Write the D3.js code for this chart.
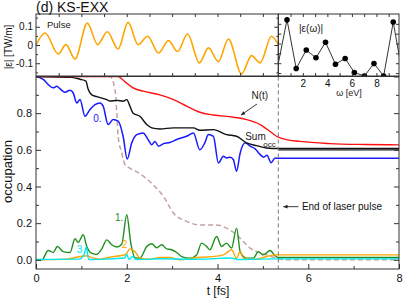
<!DOCTYPE html>
<html>
<head>
<meta charset="utf-8">
<script src="https://cdn.jsdelivr.net/npm/d3@7"></script>
<style>
body { margin: 0; background: #fff; }
svg { display: block; font-family: "Liberation Sans", Arial, Helvetica, sans-serif; }
</style>
</head>
<body>
<svg id="chart" width="403" height="299"></svg>
<script>
// values, [t (fs), value]
var tEnd = 5.34;

var pulse = [[0,0],[0.20,0.066],[0.49,-0.049],[0.66,0.002],[0.86,-0.077],[1.13,0.120],[1.36,0.002],
  [1.57,0.073],[1.81,-0.022],[2.03,0.124],[2.25,0.002],[2.46,0.048],[2.70,-0.044],[2.92,0.024],
  [3.12,-0.036],[3.34,0.060],[3.60,-0.098],[3.80,-0.016],[4.02,-0.091],[4.24,0.033],[4.53,-0.158],
  [4.75,-0.058],[4.94,-0.098],[5.19,0.048],[5.34,0.002]];

var nTotal = [[0,1.0],[1.81,1.0],[1.9,0.985],[2.0,0.963],[2.14,0.938],[2.36,0.92],[2.73,0.90],
  [3.03,0.874],[3.32,0.838],[3.61,0.805],[3.91,0.79],[4.35,0.778],[4.64,0.765],[4.94,0.738],
  [5.16,0.70],[5.30,0.674],[5.45,0.66],[5.82,0.646],[6.48,0.634],[7.25,0.629],[8,0.627]];

var sumOcc = [[0,1.0],[0.79,0.995],[0.97,0.985],[1.1,0.975],[1.15,0.93],[1.23,0.90],[1.34,0.89],
  [1.56,0.874],[1.63,0.866],[1.78,0.87],[1.92,0.865],[2.0,0.874],[2.07,0.838],[2.14,0.80],
  [2.29,0.783],[2.44,0.738],[2.55,0.72],[2.73,0.714],[3.03,0.72],[3.47,0.72],[3.61,0.707],
  [3.91,0.71],[4.20,0.683],[4.42,0.674],[4.64,0.638],[4.86,0.623],[5.08,0.61],[5.34,0.607],[8,0.607]];

var sumTail = [[5.34,0.600],[8,0.600]];

var occ0 = [[0,1.0],[0.16,0.984],[0.27,0.956],[0.38,0.938],[0.46,0.947],[0.53,0.933],[0.64,0.914],
  [0.75,0.925],[0.82,0.91],[0.90,0.856],[0.97,0.874],[1.08,0.783],[1.19,0.82],[1.30,0.847],
  [1.41,0.856],[1.48,0.838],[1.59,0.738],[1.70,0.765],[1.81,0.756],[1.92,0.674],[2.01,0.55],
  [2.11,0.638],[2.22,0.683],[2.36,0.692],[2.47,0.656],[2.55,0.628],[2.62,0.646],[2.70,0.62],
  [2.81,0.634],[2.95,0.64],[3.10,0.656],[3.32,0.674],[3.47,0.692],[3.61,0.60],[3.72,0.638],
  [3.80,0.683],[3.91,0.674],[4.02,0.528],[4.13,0.565],[4.20,0.556],[4.28,0.56],[4.35,0.546],
  [4.42,0.483],[4.50,0.583],[4.61,0.638],[4.72,0.62],[4.83,0.605],[4.94,0.574],[5.02,0.56],
  [5.09,0.57],[5.18,0.53],[5.27,0.555],[5.34,0.554],[8,0.554]];

var occ1 = [[0,0],[0.13,0],[0.27,0.051],[0.38,0.04],[0.47,0.073],[0.60,0.045],[0.75,0.04],
  [0.86,0.115],[0.93,0.095],[1.04,0.137],[1.12,0.073],[1.23,0.035],[1.34,0.03],[1.45,0.06],
  [1.56,0.109],[1.67,0.082],[1.78,0.07],[1.89,0.085],[2.0,0.246],[2.09,0.09],[2.18,0.012],
  [2.29,0.009],[2.44,0.073],[2.55,0.088],[2.66,0.066],[2.77,0.082],[2.88,0.06],[2.99,0.055],
  [3.10,0.04],[3.21,0.018],[3.39,0.009],[3.54,0.027],[3.65,0.091],[3.76,0.073],[3.83,0.055],
  [3.98,0.127],[4.09,0.073],[4.20,0.091],[4.31,0.064],[4.42,0.173],[4.50,0.045],[4.64,0.009],
  [4.79,0.009],[4.90,0.045],[5.01,0.027],[5.16,0.051],[5.27,0.022],[5.34,0.013],[8,0.013]];

var occ2 = [[0,0],[0.67,0.004],[0.97,0.018],[1.12,0.022],[1.23,0.012],[1.41,0.004],[1.63,0.015],
  [1.85,0.022],[1.98,0.03],[2.07,0.06],[2.18,0.045],[2.29,0.009],[2.5,0.003],[2.73,0.013],
  [2.95,0.013],[3.17,0.0],[3.54,0.013],[3.76,0.015],[4.13,0.027],[4.31,0.055],[4.42,0.009],
  [4.50,0.045],[4.57,0.009],[4.86,0.003],[5.08,0.018],[5.30,0.027],[8,0.027]];

var occ3 = [[0,0.002],[0.95,0.004],[1.06,0.03],[1.11,0.07],[1.16,0.002],[1.5,0.004],[1.95,0.01],
  [2.0,0.03],[2.05,0.002],[2.13,0.018],[2.2,0.002],[2.8,0.006],[3.4,0.003],[3.9,0.006],
  [4.3,0.01],[4.45,0.002],[4.9,0.004],[5.34,0.005],[8,0.005]];

var dashed = [[0,1.0],[1.63,1.0],[1.74,0.93],[1.78,0.80],[1.81,0.674],[1.89,0.583],[1.96,0.52],
  [2.07,0.50],[2.29,0.47],[2.45,0.44],[2.58,0.41],[2.81,0.346],[3.03,0.255],[3.32,0.21],
  [3.61,0.19],[3.98,0.19],[4.20,0.173],[4.42,0.137],[4.57,0.10],[4.72,0.064],[4.86,0.045],
  [5.08,0.027],[5.30,0.009],[5.5,0.0],[8,0.0]];

// spectrum |e(w)|, [omega (eV), arb. units]
var spectrum = [[0,0.255],[0.71,1.144],[1.46,0.152],[2.28,0.528],[3.07,0.37],[3.85,0.686],
  [4.66,0.24],[5.45,0.357],[6.2,0.07],[7.02,0],[7.8,0.255],[8.59,0],[9.37,1.096],[10.15,0]];

var xTicks = [0, 2, 4, 6, 8];
var xMinor = [1, 3, 5, 7];
var yTicks = [0, 0.2, 0.4, 0.6, 0.8, 1.0];
var yMinor = [0.1, 0.3, 0.5, 0.7, 0.9];
var pTicks = [-0.1, 0, 0.1];
var pMinor = [-0.15, -0.05, 0.05, 0.15];
var pxTicks = d3.range(0.5, 5.3, 0.5);
var wTicks = [1, 2, 3, 4, 5, 6, 7, 8, 9];
var wLabels = [2, 4, 6, 8];
var wyTicks = [0.06, 0.26, 0.46, 0.66, 0.86, 1.06];

var svg = d3.select('#chart');
var font = '"Liberation Sans", Arial, Helvetica, sans-serif';

var x = d3.scaleLinear().domain([0, 8]).range([36, 399]);
var y = d3.scaleLinear().domain([-0.05, 1.0]).range([269, 76.5]);
var yp = d3.scaleLinear().domain([-0.17, 0.17]).range([76, 14]);
var xw = d3.scaleLinear().domain([0, 9.84]).range([x(tEnd), 399]);
var yw = d3.scaleLinear().domain([0, 1.26]).range([76, 14]);

function axisG(axis, tx, ty, size) {
  var g = svg.append('g').attr('transform', 'translate(' + tx + ',' + ty + ')').call(axis);
  g.select('.domain').remove();
  g.attr('font-family', font).attr('font-size', size || 10);
  g.selectAll('line').attr('stroke', '#333');
  g.selectAll('text').attr('fill', '#111');
  return g;
}

// ---------- main panel ----------
svg.append('clipPath').attr('id', 'clipMain').append('rect')
  .attr('x', x(0)).attr('y', y(1.0)).attr('width', x(8) - x(0)).attr('height', y(-0.05) - y(1.0));

var line = d3.line().x(function(d) { return x(d[0]); }).y(function(d) { return y(d[1]); })
  .curve(d3.curveMonotoneX);

var lines = svg.append('g').attr('clip-path', 'url(#clipMain)').attr('fill', 'none');

lines.append('path').datum(dashed).attr('d', line)
  .attr('stroke', '#c4a2a2').attr('stroke-width', 1.5).attr('stroke-dasharray', '5,3');
lines.append('path').datum(occ1).attr('d', line).attr('stroke', '#1f8f1f').attr('stroke-width', 1.4);
lines.append('path').datum(occ2).attr('d', line).attr('stroke', '#ffa500').attr('stroke-width', 1.4);
lines.append('path').datum(occ3).attr('d', line).attr('stroke', '#00e8f0').attr('stroke-width', 1.4);
lines.append('path').datum(occ0).attr('d', line).attr('stroke', '#1a1aff').attr('stroke-width', 1.5);
lines.append('path').datum(sumTail).attr('d', line).attr('stroke', '#666').attr('stroke-width', 1.6);
lines.append('path').datum(sumOcc).attr('d', line).attr('stroke', '#111').attr('stroke-width', 1.4);
lines.append('path').datum(nTotal).attr('d', line).attr('stroke', '#ff1010').attr('stroke-width', 1.4);

// end of pulse
svg.append('line')
  .attr('x1', x(tEnd)).attr('x2', x(tEnd)).attr('y1', y(1.0)).attr('y2', y(-0.05))
  .attr('stroke', '#777').attr('stroke-width', 1).attr('stroke-dasharray', '4,3');

axisG(d3.axisBottom(x).tickValues(xTicks).tickSizeInner(-5).tickSizeOuter(0).tickPadding(5)
  .tickFormat(d3.format('d')), 0, y(-0.05), 11);
axisG(d3.axisBottom(x).tickValues(xMinor).tickSizeInner(-3).tickSizeOuter(0).tickFormat(''), 0, y(-0.05));
axisG(d3.axisLeft(y).tickValues(yTicks).tickSizeInner(-5).tickSizeOuter(0).tickPadding(4)
  .tickFormat(function(d) { return d < 0.95 ? d.toFixed(1) : ''; }), x(0), 0, 11);
axisG(d3.axisLeft(y).tickValues(yMinor).tickSizeInner(-3).tickSizeOuter(0).tickFormat(''), x(0), 0);
axisG(d3.axisRight(y).tickValues(yTicks).tickSizeInner(-5).tickSizeOuter(0).tickFormat(''), x(8), 0);
axisG(d3.axisRight(y).tickValues(yMinor).tickSizeInner(-3).tickSizeOuter(0).tickFormat(''), x(8), 0);

svg.append('rect')
  .attr('x', x(0)).attr('y', y(1.0)).attr('width', x(8) - x(0)).attr('height', y(-0.05) - y(1.0))
  .attr('fill', 'none').attr('stroke', '#333').attr('stroke-width', 1);

// ---------- pulse panel ----------
var pline = d3.line().x(function(d) { return x(d[0]); }).y(function(d) { return yp(d[1]); })
  .curve(d3.curveMonotoneX);
svg.append('path').datum(pulse).attr('d', pline)
  .attr('fill', 'none').attr('stroke', '#ffa500').attr('stroke-width', 1.6);

axisG(d3.axisLeft(yp).tickValues(pTicks).tickSizeInner(-4).tickSizeOuter(0).tickPadding(3)
  .tickFormat(function(d) { return d === 0 ? '0' : d.toFixed(1); }), x(0), 0, 10);
axisG(d3.axisLeft(yp).tickValues(pMinor).tickSizeInner(-2).tickSizeOuter(0).tickFormat(''), x(0), 0);
axisG(d3.axisRight(yp).tickValues(pTicks).tickSizeInner(-4).tickSizeOuter(0).tickFormat(''), x(tEnd), 0);
axisG(d3.axisRight(yp).tickValues(pMinor).tickSizeInner(-2).tickSizeOuter(0).tickFormat(''), x(tEnd), 0);
axisG(d3.axisTop(x).tickValues(pxTicks).tickSizeInner(-3).tickSizeOuter(0).tickFormat(''), 0, yp(0.17));
axisG(d3.axisBottom(x).tickValues(pxTicks).tickSizeInner(-3).tickSizeOuter(0).tickFormat(''), 0, yp(-0.17));

svg.append('rect')
  .attr('x', x(0)).attr('y', yp(0.17)).attr('width', x(tEnd) - x(0)).attr('height', yp(-0.17) - yp(0.17))
  .attr('fill', 'none').attr('stroke', '#333').attr('stroke-width', 1);

// ---------- spectrum inset ----------
svg.append('clipPath').attr('id', 'clipW').append('rect')
  .attr('x', xw(0)).attr('y', yw(1.26)).attr('width', xw(9.84) - xw(0)).attr('height', yw(0) - yw(1.26));

var wline = d3.line().x(function(d) { return xw(d[0]); }).y(function(d) { return yw(d[1]); });
var inset = svg.append('g').attr('clip-path', 'url(#clipW)');
inset.append('path').datum(spectrum).attr('d', wline)
  .attr('fill', 'none').attr('stroke', '#333').attr('stroke-width', 1);
inset.selectAll('circle')
  .data(spectrum.filter(function(d) { return d[0] > 0 && d[0] < 9.84; }))
  .enter().append('circle')
  .attr('cx', function(d) { return xw(d[0]); })
  .attr('cy', function(d) { return yw(d[1]); })
  .attr('r', 2.8).attr('fill', '#000');

axisG(d3.axisTop(xw).tickValues(wTicks).tickSizeInner(-3).tickSizeOuter(0).tickFormat(''), 0, yw(1.26));
axisG(d3.axisBottom(xw).tickValues(wTicks).tickSizeInner(-3).tickSizeOuter(0).tickFormat(''), 0, yw(0));
axisG(d3.axisBottom(xw).tickValues(wLabels).tickSize(0).tickPadding(3.5)
  .tickFormat(d3.format('d')), 0, yw(0), 10);
axisG(d3.axisLeft(yw).tickValues(wyTicks).tickSizeInner(-3).tickSizeOuter(0).tickFormat(''), xw(0), 0);
axisG(d3.axisRight(yw).tickValues(wyTicks).tickSizeInner(-3).tickSizeOuter(0).tickFormat(''), xw(9.84), 0);

svg.append('rect')
  .attr('x', xw(0)).attr('y', yw(1.26)).attr('width', xw(9.84) - xw(0)).attr('height', yw(0) - yw(1.26))
  .attr('fill', 'none').attr('stroke', '#333').attr('stroke-width', 1);

// ---------- text ----------
function label(txt, px, py, size, color, anchor) {
  return svg.append('text').attr('x', px).attr('y', py)
    .attr('font-size', size).attr('fill', color || '#111')
    .attr('text-anchor', anchor || 'start').text(txt);
}

label('(d) KS-EXX', 36, 11.7, 14, '#111');
label('Pulse', 47, 27.6, 9.5, '#222');
label('|\u03b5(\u03c9)|', 299, 31.5, 10, '#222');
label('\u03c9 [eV]', 349, 95.5, 9, '#222', 'middle');
label('t [fs]', 218, 294.5, 12, '#111', 'middle');

svg.append('text').attr('transform', 'translate(12,171.5) rotate(-90)')
  .attr('text-anchor', 'middle').attr('font-size', 13).attr('fill', '#111').text('occupation');
svg.append('text').attr('transform', 'translate(11.5,47) rotate(-90)')
  .attr('text-anchor', 'middle').attr('font-size', 10).attr('fill', '#111').text('|\u03b5| [TW/m]');

label('0.', x(1.26), y(0.753), 10, '#1a1aff');
label('1.', x(1.74), y(0.213), 10, '#1f8f1f');
label('2', x(1.89), y(0.063), 10, '#ffa500');
label('3', x(0.90), y(0.039), 10, '#00e8f0');
label('N(t)', x(4.75), y(0.877), 10, '#222');
label('Sum', x(4.61), y(0.654), 10, '#222');
label('occ', x(5.01), y(0.613), 8, '#222');
label('End of laser pulse', x(5.86), y(0.274), 10, '#111');

var defs = svg.append('defs');
defs.append('marker').attr('id', 'arr').attr('viewBox', '0 0 10 10')
  .attr('refX', 9).attr('refY', 5).attr('markerWidth', 5).attr('markerHeight', 5)
  .attr('orient', 'auto')
  .append('path').attr('d', 'M0,1 L10,5 L0,9 Z').attr('fill', '#222');

svg.append('line')
  .attr('x1', x(4.87)).attr('y1', y(0.85)).attr('x2', x(4.52)).attr('y2', y(0.79))
  .attr('stroke', '#222').attr('stroke-width', 0.9).attr('marker-end', 'url(#arr)');
svg.append('line')
  .attr('x1', x(5.785)).attr('y1', y(0.29)).attr('x2', x(5.455)).attr('y2', y(0.29))
  .attr('stroke', '#222').attr('stroke-width', 0.9).attr('marker-end', 'url(#arr)');
</script>
</body>
</html>
